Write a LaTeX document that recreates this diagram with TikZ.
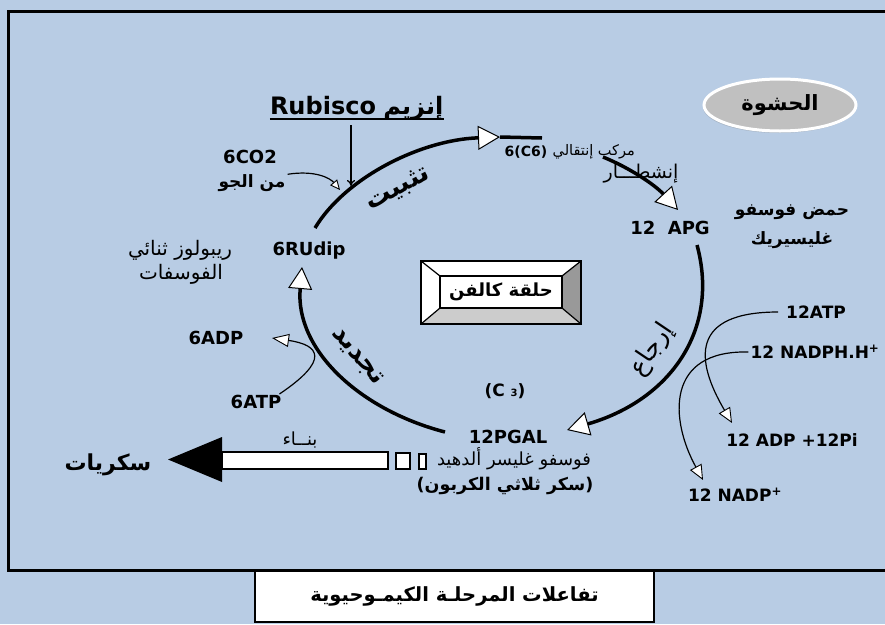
\documentclass[tikz,border=0pt]{standalone}
\usepackage{fontspec}
\setmainfont{DejaVu Sans}
\newfontfamily\arabicfont[Script=Arabic]{DejaVu Sans}
\TeXXeTstate=1
\usetikzlibrary{arrows.meta,shapes.geometric,shadows}
\definecolor{stromablue}{HTML}{B8CCE4}
\definecolor{stromagray}{HTML}{C0C0C0}
\newcommand{\artxt}[1]{{\arabicfont\beginR #1\endR}}
\newcommand{\setsz}[1]{\fontsize{#1}{#1}\selectfont}
\tikzset{
  lbl/.style={font=\bfseries\setsz{18},inner sep=0pt},
  arlbl/.style={font=\setsz{16},inner sep=0pt},
  cyclearc/.style={line width=3.5pt,-{Triangle[fill=white,line width=1pt,length=22pt,width=24pt]}},
  thinarc/.style={line width=1.2pt,-{Triangle[fill=white,line width=.9pt,length=15pt,width=13pt]}}
}
\begin{document}
\begin{tikzpicture}[x=1pt,y=-1pt]
\useasboundingbox (0,0) rectangle (885,624);
\fill[stromablue] (0,0) rectangle (885,624);
\draw[line width=3pt] (8,11) rectangle (900,570);
% caption
\node[draw,line width=2.5pt,fill=white,minimum width=399pt,minimum height=51pt,font=\bfseries\setsz{19.5}] (caption) at (454.5,596.5) {\artxt{تفاعلات المرحلـة الكيمـوحيوية}};
% stroma
\node[ellipse,draw=white,line width=3pt,fill=stromagray,minimum width=152pt,minimum height=52pt,font=\bfseries\setsz{21},
  drop shadow={shadow xshift=-1pt,shadow yshift=-2pt,opacity=.3}] (stroma) at (780,105) {\artxt{الحشوة}};
% calvin box
\fill[white] (421,261) rectangle (581,324);
\fill[gray!80] (581,261) -- (562,276) -- (562,308) -- (581,324) -- cycle;
\fill[gray!40] (421,324) -- (440,308) -- (562,308) -- (581,324) -- cycle;
\draw[line width=1.2pt] (421,261) -- (440,276) (581,261) -- (562,276) (421,324) -- (440,308) (581,324) -- (562,308);
\draw[line width=2pt] (421,261) rectangle (581,324) (440,276) rectangle (562,308);
\node[font=\bfseries\setsz{18}] (calvin) at (501,292) {\artxt{حلقة كالفن}};
% labels
\node[lbl,font=\bfseries\setsz{24}] (rub) at (323,106) {Rubisco};
\node[lbl,font=\bfseries\setsz{24},anchor=base west] (enz) at ([xshift=7pt]rub.base east) {\artxt{إنزيم}};
\draw[line width=1.5pt] ([yshift=-4pt]rub.base west) -- ([yshift=-4pt]enz.base east);
\node[lbl] (co2) at (250,157) {6CO2};
\node[arlbl,font=\bfseries\setsz{17}] (air) at (252,183) {\artxt{من الجو}};
\node[lbl] (rudp) at (309,251) {6RUdip};
\node[arlbl,font=\setsz{20}] (rubp1) at (180,250) {\artxt{ريبولوز ثنائي}};
\node[arlbl,font=\setsz{20}] (rubp2) at (181,274) {\artxt{الفوسفات}};
\node[lbl] (adp6) at (216,338) {6ADP};
\node[lbl] (atp6) at (256,402) {6ATP};
\node[lbl,font=\bfseries\setsz{14}] (c6) at (526,152) {6(C6)};
\node[arlbl,font=\setsz{14.5},anchor=west] (trans) at ([xshift=5pt]c6.east) {\artxt{مركب إنتقالي}};
\node[arlbl,font=\setsz{19}] (split) at (641,174) {\artxt{إنشطـــار}};
\node[lbl] (apg) at (670,228) {12\ \ APG};
\node[arlbl,font=\bfseries\setsz{17}] (pga1) at (792,212) {\artxt{حمض فوسفو}};
\node[arlbl,font=\bfseries\setsz{17}] (pga2) at (792,240) {\artxt{غليسيريك}};
\node[lbl,font=\bfseries\setsz{17}] (c3) at (505,391) {(C {\setsz{10}3})};
\node[lbl] (pgal) at (508,437) {12PGAL};
\node[arlbl,font=\setsz{18}] (pgal1) at (514,459) {\artxt{فوسفو غليسر ألدهيد}};
\node[arlbl,font=\bfseries\setsz{17.5}] (pgal2) at (505,486) {(\artxt{سكر ثلاثي الكربون})};
\node[arlbl,font=\setsz{18}] (build) at (300,440) {\artxt{بنــاء}};
\node[arlbl,font=\bfseries\setsz{22}] (sugar) at (108,465) {\artxt{سكريات}};
\node[lbl,font=\bfseries\setsz{17}] (atp12) at (816,312) {12ATP};
\node[lbl,font=\bfseries\setsz{17}] (nadph) at (815,352) {12 NADPH.H\textsuperscript{+}};
\node[lbl,font=\bfseries\setsz{17}] (adp12) at (792,440) {12 ADP +12Pi};
\node[lbl,font=\bfseries\setsz{17}] (nadp) at (735,495) {12 NADP\textsuperscript{+}};
\node[arlbl,font=\bfseries\setsz{26},rotate=28] (fixlbl) at (398,189) {\artxt{تثبيت}};
\node[arlbl,font=\setsz{25},rotate=56] (redlbl) at (652,350) {\artxt{إرجاع}};
\node[arlbl,font=\bfseries\setsz{26},rotate=-50] (reglbl) at (357,357) {\artxt{تجديد}};
% cycle
\coordinate (fixA) at (315,228);
\coordinate (fixB) at (500,137);
\coordinate (fixC) at (542,138);
\coordinate (splitA) at (603,157);
\coordinate (splitB) at (678,210);
\coordinate (redA) at (697,245);
\coordinate (redB) at (567,430);
\coordinate (regA) at (445,432);
\coordinate (regB) at (302,267);
\draw[cyclearc] (fixA) .. controls (345,178) and (420,140) .. (fixB);
\draw[line width=3.5pt] (fixB) -- (fixC);
\draw[cyclearc] (splitA) .. controls (630,168) and (655,185) .. (splitB);
\draw[cyclearc] (redA) .. controls (720,330) and (670,400) .. (redB);
\draw[cyclearc] (regA) .. controls (360,410) and (295,350) .. (regB);
% side arrows
\coordinate (rubtip) at (351,186);
\draw[line width=1.3pt,-{To[length=6pt,width=8pt]}] (rubtip |- rub.south) ++(0,10) -- (rubtip);
\coordinate (co2tip) at (340,190);
\draw[thinarc,-{Triangle[fill=white,line width=.9pt,length=10pt,width=9pt]}] ([xshift=2pt]air.north east) .. controls (315,170) and (330,178) .. (co2tip);
\coordinate (adptip) at (272,338);
\draw[thinarc,-{Triangle[fill=white,line width=.9pt,length=17pt,width=13pt]}] ([xshift=-2pt,yshift=8pt]atp6.east) .. controls (330,360) and (320,345) .. (adptip);
\coordinate (adp12tip) at (732,423);
\draw[thinarc] ([xshift=-8pt]atp12.west) .. controls (690,312) and (695,360) .. (adp12tip);
\coordinate (nadptip) at (703,480);
\draw[thinarc] ([xshift=-2pt]nadph.west) .. controls (665,350) and (670,420) .. (nadptip);
% synthesis bar
\draw[line width=1.2pt,fill=white] (222,452) rectangle (388,469);
\fill (222,437) -- (222,482) -- (168,459.5) -- cycle;
\draw[line width=1.2pt,fill=white] (396,453) rectangle (410,469);
\draw[line width=1.2pt,fill=white] (419,454) rectangle (426,469);
\end{tikzpicture}
\end{document}
